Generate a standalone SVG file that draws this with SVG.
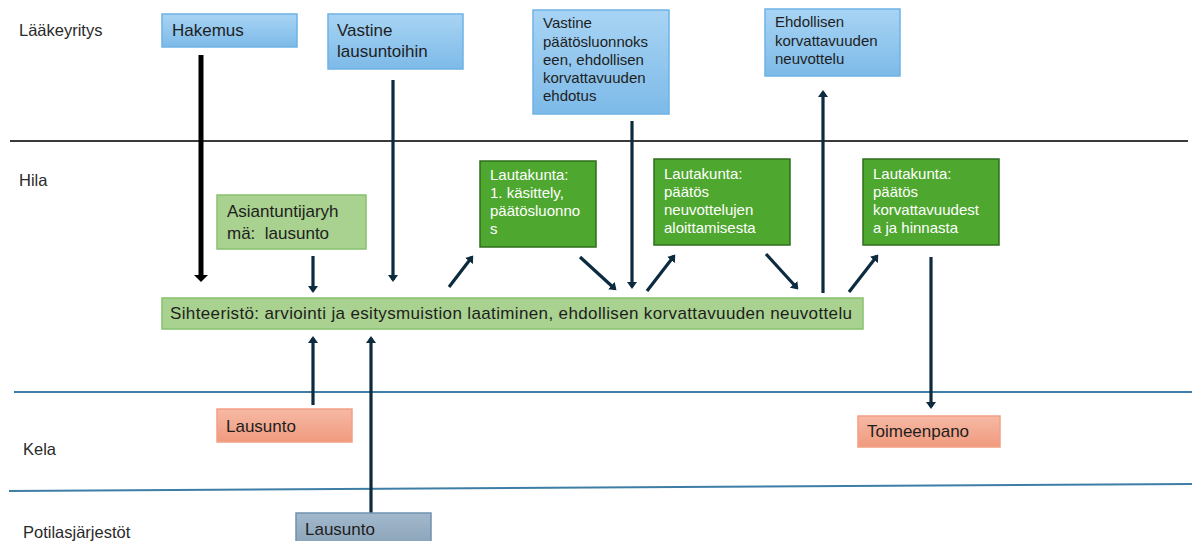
<svg xmlns="http://www.w3.org/2000/svg" width="1192" height="541" viewBox="0 0 1192 541">
<defs>
  <linearGradient id="gBlue" x1="0" y1="0" x2="0" y2="1">
    <stop offset="0" stop-color="#a8d4f4"/>
    <stop offset="1" stop-color="#7dbae8"/>
  </linearGradient>
  <linearGradient id="gSalmon" x1="0" y1="0" x2="0" y2="1">
    <stop offset="0" stop-color="#f6b9a5"/>
    <stop offset="1" stop-color="#f09a7d"/>
  </linearGradient>
  <linearGradient id="gGrey" x1="0" y1="0" x2="0" y2="1">
    <stop offset="0" stop-color="#a3b8cb"/>
    <stop offset="1" stop-color="#8aa3b9"/>
  </linearGradient>
  <marker id="ah" markerUnits="userSpaceOnUse" markerWidth="10" markerHeight="10" refX="5" refY="5" orient="auto">
    <path d="M0,0 L7,5 L0,10 z" fill="#0c2b3f"/>
  </marker>
  <marker id="ahBig" markerUnits="userSpaceOnUse" markerWidth="10" markerHeight="14" refX="4" refY="7" orient="auto">
    <path d="M0,0 L7,7 L0,14 z" fill="#000"/>
  </marker>
</defs>
<style>
  text { font-family: "Liberation Sans", Arial, sans-serif; fill: #1e1e1e; }
  .lane { font-size: 16.5px; fill: #2a2a2a; }
  .big { font-size: 17px; }
  .small { font-size: 15px; }
  .white { fill: #ffffff; }
  .blue { fill: url(#gBlue); stroke: #6db3e6; stroke-width: 1.5; }
  .lgreen { fill: #a9d18f; stroke: #86c26f; stroke-width: 1.5; }
  .dgreen { fill: #4ea72e; stroke: #2f6d1d; stroke-width: 1.5; }
  .salmon { fill: url(#gSalmon); stroke: #f3a084; stroke-width: 1.5; }
  .grey { fill: url(#gGrey); stroke: #6f92b0; stroke-width: 1.5; }
  .arr { stroke: #0c2b3f; stroke-width: 3.2; fill: none; marker-end: url(#ah); }
  .arrBig { stroke: #000; stroke-width: 5; fill: none; marker-end: url(#ahBig); }
</style>

<g id="lanes">
  <line x1="10" y1="141" x2="1188" y2="141" stroke="#3a3a3a" stroke-width="2"/>
  <line x1="14" y1="392" x2="1192" y2="392" stroke="#3e7ea6" stroke-width="2"/>
  <line x1="9" y1="491" x2="1192" y2="484" stroke="#3e7ea6" stroke-width="2"/>
  <text class="lane" x="19" y="36">Lääkeyritys</text>
  <text class="lane" x="19" y="186">Hila</text>
  <text class="lane" x="23" y="455">Kela</text>
  <text class="lane" x="23" y="538">Potilasjärjestöt</text>
</g>

<g id="connectors">
  <line class="arrBig" x1="201" y1="55" x2="201" y2="279"/>
  <line class="arr" x1="393" y1="80" x2="393" y2="280"/>
  <line class="arr" x1="313" y1="256" x2="313" y2="291"/>
  <line class="arr" x1="313" y1="405" x2="313" y2="338"/>
  <line class="arr" x1="371" y1="530" x2="371" y2="338"/>
  <line class="arr" x1="632" y1="121" x2="632" y2="287"/>
  <line class="arr" x1="823" y1="293" x2="823" y2="92"/>
  <line class="arr" x1="931" y1="257" x2="931" y2="407"/>
  <line class="arr" x1="449" y1="287" x2="472" y2="257"/>
  <line class="arr" x1="580" y1="257" x2="615" y2="289"/>
  <line class="arr" x1="647" y1="291" x2="674" y2="256"/>
  <line class="arr" x1="766" y1="254" x2="797" y2="288"/>
  <line class="arr" x1="849" y1="292" x2="877" y2="256"/>
</g>

<g id="hakemus">
  <rect class="blue" x="162" y="14" width="135" height="33"/>
  <text class="big" x="172" y="36">Hakemus</text>
</g>
<g id="vastine-lausuntoihin">
  <rect class="blue" x="328" y="14" width="135" height="55"/>
  <text class="big" x="337" y="36">Vastine</text>
  <text class="big" x="337" y="57">lausuntoihin</text>
</g>
<g id="vastine-paatosluonnokseen">
  <rect class="blue" x="533" y="10" width="136" height="104"/>
  <text class="small" x="543" y="28">Vastine</text>
  <text class="small" x="543" y="46.5">päätösluonnoks</text>
  <text class="small" x="543" y="65">een, ehdollisen</text>
  <text class="small" x="543" y="83">korvattavuuden</text>
  <text class="small" x="543" y="101">ehdotus</text>
</g>
<g id="ehdollisen-neuvottelu">
  <rect class="blue" x="765" y="9" width="135" height="67"/>
  <text class="small" x="775" y="27">Ehdollisen</text>
  <text class="small" x="775" y="46">korvattavuuden</text>
  <text class="small" x="775" y="64">neuvottelu</text>
</g>

<g id="asiantuntijaryhma">
  <rect class="lgreen" x="217" y="195" width="149" height="54"/>
  <text class="big" x="227" y="217">Asiantuntijaryh</text>
  <text class="big" x="227" y="239">mä:&#160; lausunto</text>
</g>
<g id="sihteeristo">
  <rect class="lgreen" x="162" y="298" width="701" height="31"/>
  <text class="big" x="170" y="319" textLength="682" lengthAdjust="spacing">Sihteeristö: arviointi ja esitysmuistion laatiminen, ehdollisen korvattavuuden neuvottelu</text>
</g>
<g id="lautakunta-1">
  <rect class="dgreen" x="480" y="161" width="116" height="86"/>
  <text class="small white" x="490" y="180">Lautakunta:</text>
  <text class="small white" x="490" y="198">1. käsittely,</text>
  <text class="small white" x="490" y="216">päätösluonno</text>
  <text class="small white" x="490" y="234">s</text>
</g>
<g id="lautakunta-2">
  <rect class="dgreen" x="654" y="159" width="136" height="86"/>
  <text class="small white" x="664" y="179">Lautakunta:</text>
  <text class="small white" x="664" y="197">päätös</text>
  <text class="small white" x="664" y="215">neuvottelujen</text>
  <text class="small white" x="664" y="233">aloittamisesta</text>
</g>
<g id="lautakunta-3">
  <rect class="dgreen" x="863" y="159" width="136" height="86"/>
  <text class="small white" x="873" y="179">Lautakunta:</text>
  <text class="small white" x="873" y="197">päätös</text>
  <text class="small white" x="873" y="215">korvattavuudest</text>
  <text class="small white" x="873" y="233">a ja hinnasta</text>
</g>

<g id="kela-lausunto">
  <rect class="salmon" x="217" y="409" width="135" height="33"/>
  <text class="big" x="226" y="432">Lausunto</text>
</g>
<g id="toimeenpano">
  <rect class="salmon" x="858" y="416" width="142" height="31"/>
  <text class="big" x="867" y="437">Toimeenpano</text>
</g>
<g id="potilas-lausunto">
  <rect class="grey" x="296" y="513" width="135" height="34"/>
  <text class="big" x="305" y="535">Lausunto</text>
</g>
</svg>
